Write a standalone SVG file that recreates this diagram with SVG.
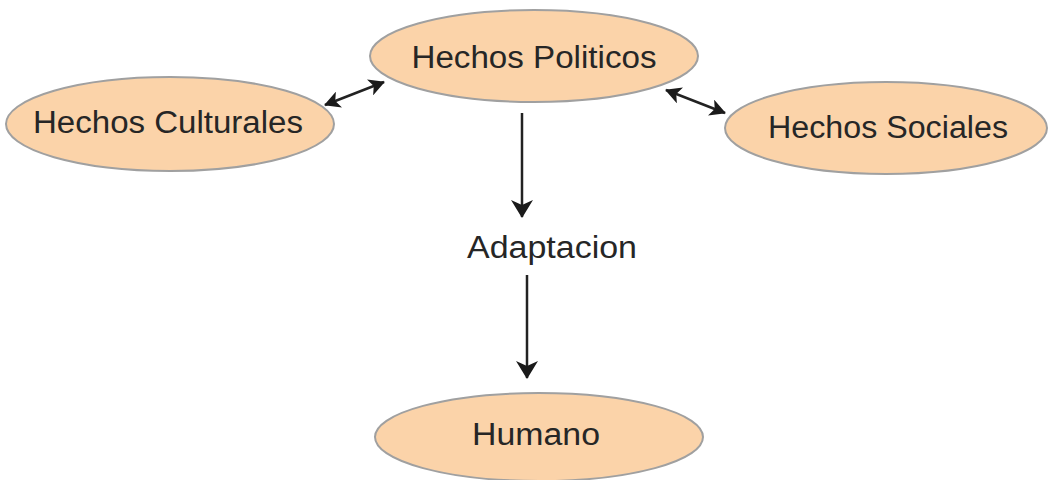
<svg xmlns="http://www.w3.org/2000/svg" width="1048" height="480" viewBox="0 0 1048 480">
<style>
.node ellipse{fill:#FBD3A9;stroke:#A0A0A0;stroke-width:2}
text{font-family:"Liberation Sans",Arial,sans-serif;font-size:31px;fill:#262626}
.c{stroke:#222;stroke-width:2.5;fill:none}
</style>
<defs>
<marker id="ah" viewBox="0 0 18 22" refX="17" refY="11" markerWidth="18" markerHeight="22" markerUnits="userSpaceOnUse" orient="auto-start-reverse">
<path d="M0,0 L18,11 L0,22 L5,11 Z" fill="#1a1a1a"/>
</marker>
<marker id="ahs" viewBox="0 0 16 17" refX="15" refY="8.5" markerWidth="16" markerHeight="17" markerUnits="userSpaceOnUse" orient="auto-start-reverse">
<path d="M0,0 L16,8.5 L0,17 L4,8.5 Z" fill="#1a1a1a"/>
</marker>
</defs>
<rect width="1048" height="480" fill="#fff"/>
<g id="politicos" class="node"><ellipse cx="534" cy="56" rx="164" ry="46"/><text x="534" y="68" text-anchor="middle" textLength="245" lengthAdjust="spacingAndGlyphs">Hechos Politicos</text></g>
<g id="culturales" class="node"><ellipse cx="170" cy="124" rx="164" ry="47"/><text x="168" y="133" text-anchor="middle" textLength="270" lengthAdjust="spacingAndGlyphs">Hechos Culturales</text></g>
<g id="sociales" class="node"><ellipse cx="886" cy="128" rx="161" ry="46"/><text x="888" y="138" text-anchor="middle" textLength="240" lengthAdjust="spacingAndGlyphs">Hechos Sociales</text></g>
<g id="adaptacion"><text x="552" y="258" text-anchor="middle" textLength="170" lengthAdjust="spacingAndGlyphs">Adaptacion</text></g>
<g id="humano" class="node"><ellipse cx="539" cy="437" rx="164" ry="44"/><text x="536" y="445" text-anchor="middle" textLength="128" lengthAdjust="spacingAndGlyphs">Humano</text></g>
<g id="connectors">
<line class="c" x1="325" y1="105" x2="384" y2="82" marker-start="url(#ahs)" marker-end="url(#ahs)"/>
<line class="c" x1="666" y1="90" x2="725" y2="113" marker-start="url(#ahs)" marker-end="url(#ahs)"/>
<line class="c" x1="522" y1="113" x2="522" y2="217" marker-end="url(#ah)"/>
<line class="c" x1="527" y1="275" x2="527" y2="378" marker-end="url(#ah)"/>
</g>
</svg>
